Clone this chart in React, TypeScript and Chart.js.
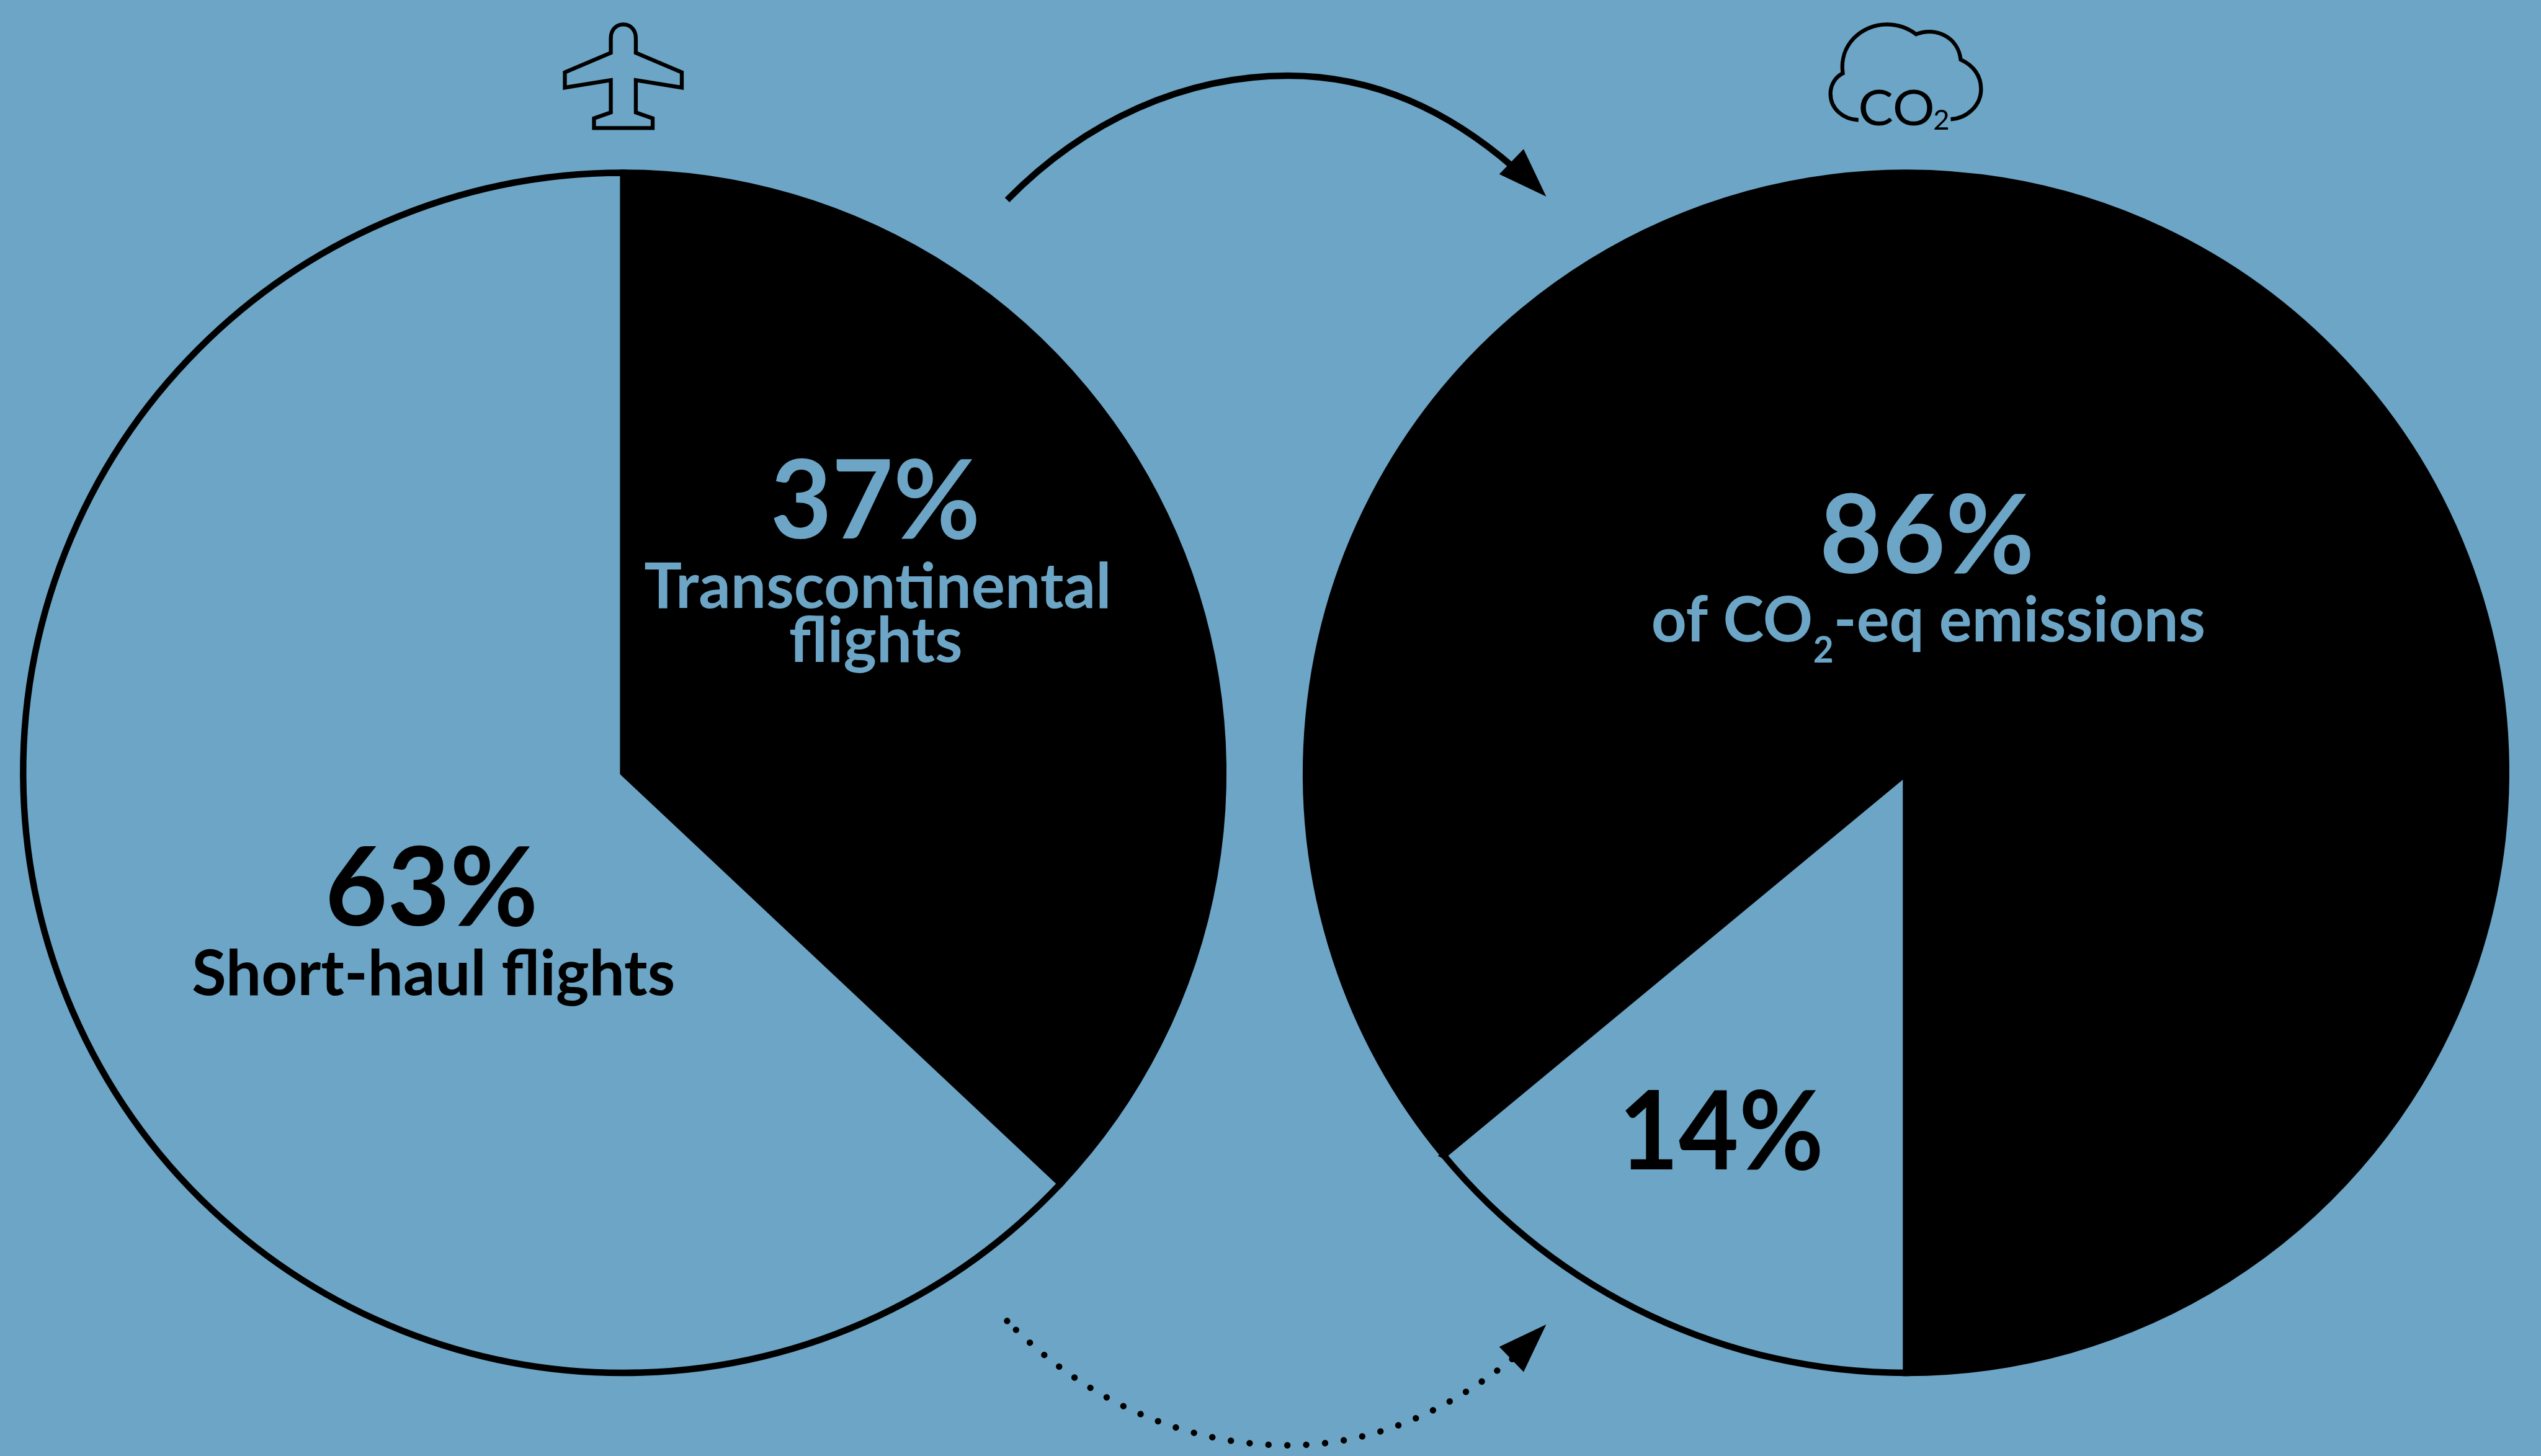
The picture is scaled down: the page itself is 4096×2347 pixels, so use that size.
import React, { useEffect, useRef } from "react";
import { Chart, registerables } from "chart.js";

Chart.register(...registerables);

// ---- data ----
const flightCategories = ["Transcontinental flights", "Short-haul flights"];
const flightShares = [37, 63];
const emissionCategories = ["Transcontinental flights", "Short-haul flights"];
const emissionShares = [86, 14];
const transLabelLines = ["Transcontinental", "flights"];
const shortLabel = "Short-haul flights";
const emissionLabelParts = ["of CO", "2", "-eq emissions"];
const iconLabelParts = ["CO", "2"];

// ---- layout (reference pixels, scaled to the window) ----
const WIDTH = 4096;
const HEIGHT = 2347;
const S = WIDTH / 4332;
const BG = "#6ca5c5";
const INK = "#000000";
const FONT = "Lato, sans-serif";
const BORDER = 11;
const LEFT_BOX = { l: 34, t: 289, r: 2091, b: 2346 };
const RIGHT_BOX = { l: 2221, t: 289, r: 4278, b: 2346 };
const MIRROR_Y = 2593;

function paddingFor(box: { l: number; t: number; r: number; b: number }) {
  return {
    left: box.l * S,
    top: box.t * S,
    right: WIDTH - box.r * S,
    bottom: HEIGHT - box.b * S,
  };
}

// Draw text so that its ink spans [x, x + w] with the baseline on y.
function fitText(
  ctx: CanvasRenderingContext2D,
  text: string,
  x: number,
  y: number,
  w: number,
  size: number,
  weight: number,
  color: string
) {
  ctx.save();
  ctx.font = `${weight} ${size}px ${FONT}`;
  ctx.textAlign = "left";
  ctx.textBaseline = "alphabetic";
  ctx.fillStyle = color;
  const m = ctx.measureText(text);
  const ink = m.actualBoundingBoxLeft + m.actualBoundingBoxRight;
  const sx = w / ink;
  ctx.translate(x + m.actualBoundingBoxLeft * sx, y);
  ctx.scale(sx, 1);
  ctx.fillText(text, 0, 0);
  ctx.restore();
}

function drawPlane(ctx: CanvasRenderingContext2D) {
  ctx.save();
  ctx.translate(900, 0);
  ctx.scale(1 / 3, 1 / 3);
  ctx.lineWidth = 20;
  ctx.strokeStyle = INK;
  ctx.lineJoin = "miter";
  ctx.beginPath();
  ctx.moveTo(424, 270);
  ctx.lineTo(424, 195);
  ctx.bezierCurveTo(424, 152, 452, 125, 488, 125);
  ctx.bezierCurveTo(524, 125, 552, 152, 552, 195);
  ctx.lineTo(552, 270);
  ctx.lineTo(787, 370);
  ctx.lineTo(787, 448);
  ctx.lineTo(552, 410);
  ctx.lineTo(552, 575);
  ctx.lineTo(638, 605);
  ctx.lineTo(638, 655);
  ctx.lineTo(338, 655);
  ctx.lineTo(338, 605);
  ctx.lineTo(424, 575);
  ctx.lineTo(424, 410);
  ctx.lineTo(189, 448);
  ctx.lineTo(189, 370);
  ctx.closePath();
  ctx.stroke();
  ctx.restore();
}

function drawCloud(ctx: CanvasRenderingContext2D) {
  ctx.save();
  ctx.translate(3060, 0);
  ctx.scale(1 / 3, 1 / 3);
  ctx.lineWidth = 20;
  ctx.strokeStyle = INK;
  ctx.lineJoin = "miter";
  ctx.beginPath();
  ctx.moveTo(325, 614);
  ctx.bezierCurveTo(245, 610, 182, 555, 182, 480);
  ctx.bezierCurveTo(182, 435, 205, 395, 245, 375);
  ctx.bezierCurveTo(225, 230, 340, 125, 470, 125);
  ctx.bezierCurveTo(530, 125, 580, 145, 620, 175);
  ctx.bezierCurveTo(720, 135, 835, 190, 848, 305);
  ctx.bezierCurveTo(915, 335, 952, 390, 952, 455);
  ctx.bezierCurveTo(952, 540, 880, 605, 797, 610);
  ctx.stroke();
  ctx.restore();
  fitText(ctx, iconLabelParts[0], 3171, 214, 124, 84, 400, INK);
  fitText(ctx, iconLabelParts[1], 3298, 221, 24, 46, 400, INK);
}

function arcPath(ctx: CanvasRenderingContext2D, mirror: boolean, reverse: boolean) {
  const fy = (y: number) => (mirror ? MIRROR_Y - y : y);
  ctx.beginPath();
  if (!reverse) {
    ctx.moveTo(1717, fy(341));
    ctx.bezierCurveTo(1850, fy(205), 2020, fy(129), 2196, fy(129));
    ctx.bezierCurveTo(2345, fy(129), 2470, fy(190), 2580, fy(285));
  } else {
    ctx.moveTo(2578, fy(276));
    ctx.bezierCurveTo(2470, fy(190), 2345, fy(129), 2196, fy(129));
    ctx.bezierCurveTo(2020, fy(129), 1850, fy(205), 1717, fy(341));
  }
}

function arrowHead(ctx: CanvasRenderingContext2D, mirror: boolean) {
  const fy = (y: number) => (mirror ? MIRROR_Y - y : y);
  ctx.beginPath();
  ctx.moveTo(2597.5, fy(254));
  ctx.lineTo(2636, fy(335));
  ctx.lineTo(2556, fy(297));
  ctx.closePath();
  ctx.fillStyle = INK;
  ctx.fill();
}

function drawArrows(ctx: CanvasRenderingContext2D) {
  ctx.save();
  ctx.strokeStyle = INK;
  ctx.lineWidth = 11;
  arcPath(ctx, false, false);
  ctx.stroke();
  arrowHead(ctx, false);

  ctx.save();
  ctx.lineCap = "round";
  ctx.setLineDash([0.01, 32.2]);
  arcPath(ctx, true, true);
  ctx.stroke();
  ctx.restore();
  ctx.fillStyle = INK;
  ctx.beginPath();
  ctx.arc(1717, MIRROR_Y - 341, 5.5, 0, Math.PI * 2);
  ctx.fill();
  arrowHead(ctx, true);
  ctx.restore();
}

const overlay = {
  id: "overlay",
  afterDraw(chart: Chart) {
    const ctx = chart.ctx;
    ctx.save();
    ctx.scale(S, S);

    drawPlane(ctx);
    drawCloud(ctx);
    drawArrows(ctx);

    fitText(ctx, `${flightShares[0]}%`, 1319, 918, 346, 186, 700, BG);
    fitText(ctx, transLabelLines[0], 1099, 1036, 789, 107, 700, BG);
    fitText(ctx, transLabelLines[1], 1347, 1129, 291, 107, 700, BG);

    fitText(ctx, `${flightShares[1]}%`, 561, 1578, 350, 186, 700, INK);
    fitText(ctx, shortLabel, 329, 1696, 819, 107, 700, INK);

    fitText(ctx, `${emissionShares[0]}%`, 3109, 977, 353, 186, 700, BG);
    fitText(ctx, emissionLabelParts[0], 2818, 1094, 269, 107, 700, BG);
    fitText(ctx, emissionLabelParts[1], 3093, 1130, 31, 62, 700, BG);
    fitText(ctx, emissionLabelParts[2], 3132, 1094, 625, 107, 700, BG);

    fitText(ctx, `${emissionShares[1]}%`, 2771, 1994, 332, 186, 700, INK);

    ctx.restore();
  },
};

function makePie(
  canvas: HTMLCanvasElement,
  labels: string[],
  data: number[],
  colors: string[],
  rotation: number,
  box: { l: number; t: number; r: number; b: number },
  plugins: any[]
) {
  return new Chart(canvas, {
    type: "pie",
    data: {
      labels,
      datasets: [
        {
          data,
          backgroundColor: colors,
          borderColor: INK,
          borderWidth: BORDER * S,
          borderAlign: "center",
          borderJoinStyle: "miter",
        } as any,
      ],
    },
    options: {
      responsive: false,
      animation: false,
      rotation,
      layout: { padding: paddingFor(box) },
      plugins: {
        legend: { display: false },
        title: { display: false },
        tooltip: { enabled: false },
      },
    },
    plugins,
  });
}

export default function App() {
  const leftRef = useRef<HTMLCanvasElement>(null);
  const rightRef = useRef<HTMLCanvasElement>(null);

  useEffect(() => {
    const left = makePie(
      leftRef.current!,
      flightCategories,
      flightShares,
      [INK, BG],
      0,
      LEFT_BOX,
      []
    );
    const right = makePie(
      rightRef.current!,
      emissionCategories,
      emissionShares,
      [INK, BG],
      180 + emissionShares[1] * 3.6,
      RIGHT_BOX,
      [overlay]
    );
    return () => {
      left.destroy();
      right.destroy();
    };
  }, []);

  const layer: React.CSSProperties = { position: "absolute", left: 0, top: 0 };
  return (
    <div
      style={{
        position: "fixed",
        left: 0,
        top: 0,
        width: WIDTH,
        height: HEIGHT,
        background: BG,
        overflow: "hidden",
      }}
    >
      <canvas ref={leftRef} width={WIDTH} height={HEIGHT} style={layer} />
      <canvas ref={rightRef} width={WIDTH} height={HEIGHT} style={layer} />
    </div>
  );
}
